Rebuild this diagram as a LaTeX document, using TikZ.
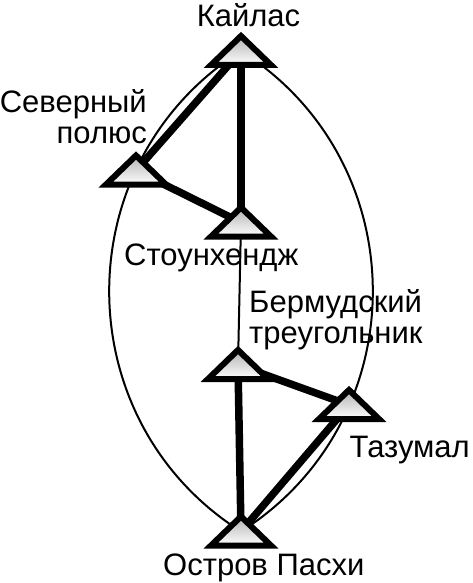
\documentclass[tikz,border=0pt]{standalone}
\usepackage{fontspec}
\setmainfont{Liberation Sans}
\usetikzlibrary{calc}
\begin{document}
\begin{tikzpicture}[x=1pt,y=-1pt,
  pt/.style={circle,inner sep=0pt,minimum size=0pt},
  tri/.style={draw=black,line width=6pt,line join=miter,top color=black!30,bottom color=white},
  thickedge/.style={line width=7.5pt},
  thinedge/.style={line width=2pt},
  lbl/.style={font=\fontsize{31}{31}\selectfont,inner sep=0pt}]
\useasboundingbox (0,0) rectangle (473,583);
\node[pt] (K) at (241,51) {};
\node[pt] (N) at (136,170.5) {};
\node[pt] (S) at (241,222.5) {};
\node[pt] (B) at (238,365) {};
\node[pt] (T) at (349,405) {};
\node[pt] (E) at (241,531.5) {};
% thin arcs
\draw[thinedge] (K) to[bend right=57.6,looseness=1.11] (E);
\draw[thinedge] (K) to[bend left=57.6,looseness=1.11] (E);
\draw[thinedge] (S) -- (B);
% thick edges
\draw[thickedge] (K) -- (S);
\draw[thickedge] (K) -- (N);
\draw[thickedge] (N) -- (S);
\draw[thickedge] (B) -- (E);
\draw[thickedge] (B) -- (T);
\draw[thickedge] (T) -- (E);
% triangles
\foreach \n in {K,N,S,B,T,E}
  \path[tri] ($(\n)+(0,-15)$) -- ++(-30,29) -- ++(60,0) -- cycle;
% labels
\node[lbl,anchor=base] (lk) at (248.5,27) {Кайлас};
\node[lbl,anchor=base east,align=right] (ln) at (147,143) {Северный\\полюс};
\node[lbl,anchor=base west] (ls) at (124,265) {Стоунхендж};
\node[lbl,anchor=base west,align=left] (lb) at (249,343) {Бермудский\\треугольник};
\node[lbl,anchor=base east] (lt) at (470,457) {Тазумал};
\node[lbl,anchor=base west] (le) at (163,575) {Остров Пасхи};
\end{tikzpicture}
\end{document}
